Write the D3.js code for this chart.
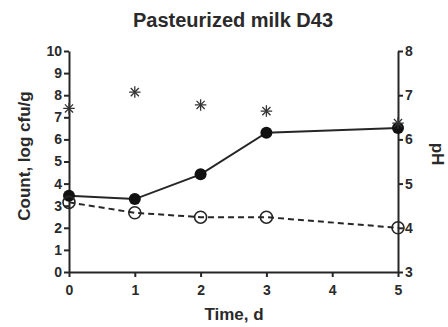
<!DOCTYPE html>
<html>
<head>
<meta charset="utf-8">
<script src="https://cdn.jsdelivr.net/npm/d3@7"></script>
<style>
  body { margin: 0; background: #fff; }
  text { font-family: "Liberation Sans", Arial, sans-serif; fill: #2a2a2a; }
</style>
</head>
<body>
<svg id="chart" width="448" height="327"></svg>
<script>
// data
const days = [0, 1, 2, 3, 5];
const countFilled = [3.45, 3.3, 4.42, 6.3, 6.52];
const countOpen = [3.15, 2.68, 2.48, 2.48, 2.0];
const phValues = [6.7, 7.07, 6.78, 6.64, 6.37];
const xTicks = [0, 1, 2, 3, 4, 5];
const leftTicks = d3.range(0, 11);
const rightTicks = [3, 4, 5, 6, 7, 8];

const svg = d3.select("#chart");
const ink = "#262626";

// plot box
const plotLeft = 69, plotRight = 398, plotTop = 51, plotBottom = 272;

const x = d3.scaleLinear().domain([0, 5]).range([plotLeft, plotRight]);
const yCount = d3.scaleLinear().domain([0, 10]).range([plotBottom, plotTop]);
const yPh = d3.scaleLinear().domain([3, 8]).range([plotBottom, plotTop]);

// axes
const fmt = d3.format("d");
const gx = svg.append("g").attr("transform", `translate(0,${plotBottom})`)
    .call(d3.axisBottom(x).tickValues(xTicks).tickFormat(fmt).tickSize(5).tickPadding(8).tickSizeOuter(0));
const gl = svg.append("g").attr("transform", `translate(${plotLeft},0)`)
    .call(d3.axisLeft(yCount).tickValues(leftTicks).tickFormat(fmt).tickSize(5).tickPadding(2).tickSizeOuter(0));
const gr = svg.append("g").attr("transform", `translate(${plotRight},0)`)
    .call(d3.axisRight(yPh).tickValues(rightTicks).tickFormat(fmt).tickSize(5).tickPadding(2).tickSizeOuter(0));

[gx, gl, gr].forEach(g => {
    g.select(".domain").attr("stroke", ink).attr("stroke-width", 2);
    g.selectAll(".tick line").attr("stroke", ink).attr("stroke-width", 2);
    g.selectAll(".tick text")
        .style("font-size", "14px")
        .style("font-weight", "bold")
        .attr("fill", "#2a2a2a");
});

// lines
const lineFilled = d3.line().x((d, i) => x(days[i])).y(d => yCount(d));
svg.append("path")
    .datum(countFilled)
    .attr("d", lineFilled)
    .attr("fill", "none")
    .attr("stroke", ink)
    .attr("stroke-width", 2);

svg.append("path")
    .datum(countOpen)
    .attr("d", lineFilled)
    .attr("fill", "none")
    .attr("stroke", ink)
    .attr("stroke-width", 2)
    .attr("stroke-dasharray", "6,4");

// markers
svg.append("g").selectAll("circle")
    .data(countFilled)
    .join("circle")
    .attr("cx", (d, i) => x(days[i]))
    .attr("cy", d => yCount(d))
    .attr("r", 6)
    .attr("fill", "#111");

svg.append("g").selectAll("circle")
    .data(countOpen)
    .join("circle")
    .attr("cx", (d, i) => x(days[i]))
    .attr("cy", d => yCount(d))
    .attr("r", 6)
    .attr("fill", "none")
    .attr("stroke", ink)
    .attr("stroke-width", 1.6);

// pH asterisks (plus + times overlaid)
const star = svg.append("g").selectAll("g")
    .data(phValues)
    .join("g")
    .attr("transform", (d, i) => `translate(${x(days[i])},${yPh(d)})`);
star.append("path")
    .attr("d", d3.symbol(d3.symbolPlus, 45))
    .attr("fill", "none").attr("stroke", "#333").attr("stroke-width", 1.3);
star.append("path")
    .attr("d", d3.symbol(d3.symbolTimes, 45))
    .attr("fill", "none").attr("stroke", "#333").attr("stroke-width", 1.3);

// titles
svg.append("text")
    .attr("x", 233).attr("y", 27)
    .attr("text-anchor", "middle")
    .style("font-size", "20px")
    .style("font-weight", "bold")
    .text("Pasteurized milk D43");

svg.append("text")
    .attr("x", 234).attr("y", 320)
    .attr("text-anchor", "middle")
    .style("font-size", "17px")
    .style("font-weight", "bold")
    .text("Time, d");

svg.append("text")
    .attr("transform", "translate(30,156) rotate(-90)")
    .attr("text-anchor", "middle")
    .style("font-size", "17px")
    .style("font-weight", "bold")
    .text("Count, log cfu/g");

svg.append("text")
    .attr("transform", "translate(432,154) rotate(90)")
    .attr("text-anchor", "middle")
    .style("font-size", "17px")
    .style("font-weight", "bold")
    .text("pH");
</script>
</body>
</html>
